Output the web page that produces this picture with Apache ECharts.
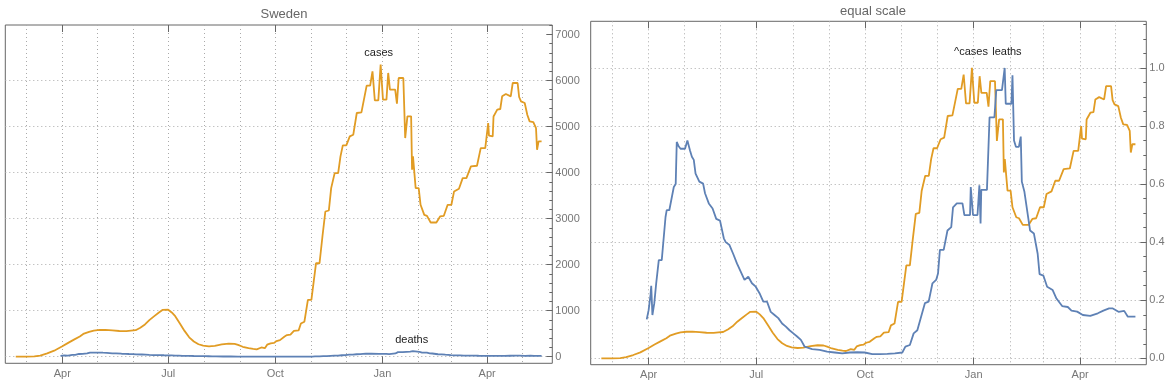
<!DOCTYPE html>
<html><head><meta charset="utf-8">
<script src="https://cdn.jsdelivr.net/npm/echarts@6/dist/echarts.min.js"></script>
<style>html,body{margin:0;padding:0;background:#fff}#c{width:1176px;height:385px}</style>
</head><body><div id="c"></div><script>
// x values are days since 12 Feb 2020
const monthDays = [18,49,79,110,140,171,202,232,263,293,324,355,383,414,444];
const quarterDays = [49,140,232,324,414];
const quarterLabels = ['Apr','Jul','Oct','Jan','Apr'];
const leftTicks = [0,1000,2000,3000,4000,5000,6000,7000];
const leftGrid = [0,1000,2000,3000,4000,5000,6000];
const rightTicks = [0,0.2,0.4,0.6,0.8,1.0];

const casesDays = [9,18,25,30,36,42,49,54,59,64,67,72,76,81,86,92,98,104,108,112,116,120,124,128,132,135,140,143,146,150,154,158,162,166,170,175,180,186,192,197,200,204,209,213,216,220,223,225,228,231,233,236,240,242,245,248,252,254,257,260,263,267,270,272.5,275,278,280,283,286,288,290,293,296,299,302,306,310.5,313.5,315.5,317.5,320.5,322.5,324.5,327.5,329,330.5,331.5,335,336.5,338,342,343.6,345.5,348.7,349.5,350.3,352.6,355.2,356.8,360,362.3,365.5,370.4,373.6,376.8,380.1,383.3,385.6,389.8,393,396.2,400.1,405.3,408.5,412.4,414.9,415.6,418.8,419.5,422.7,425.3,426.9,430.1,434.3,436,440.2,441.5,443.1,446.3,448.5,450.5,453.7,456,456.9,458.2,460.8];
const casesValues = [0,0,5,25,72,130,225,300,370,440,494,540,568,580,582,570,558,555,565,575,630,700,800,880,960,1015,1020,960,880,720,560,420,330,270,240,225,235,265,285,280,255,215,185,170,160,200,185,260,290,300,340,360,440,470,480,560,570,720,760,1233,1233,2030,2030,2611,3154,3176,3662,3988,3988,4351,4590,4590,4786,4822,5294,5308,5888,5888,6200,5569,5569,6345,5584,5584,6164,5801,5838,5801,5497,6055,6055,4750,5221,5221,4061,4351,3662,3662,3300,3082,3060,2915,2915,3046,3060,3300,3300,3590,3648,3880,3880,4133,4148,4532,4532,5076,4801,4786,5217,5366,5381,5656,5707,5656,5946,5946,5642,5547,5511,5257,5112,5098,4967,4496,4677,4677];

const deathsDays = [47.4,49,50.6,51.2,52.2,53.8,55.4,57.6,60.1,63.3,64.3,66.5,70.3,71.9,72.8,74.4,76,79.8,81.8,84,85.6,87.2,88.7,91.9,95.1,96.7,99.9,103.1,104.6,106.2,109.4,112.6,114.2,117.4,120.5,123.7,126.9,130.1,133.3,136.4,139.6,142.8,146,149.2,152.3,155.5,158.7,161.9,165.1,168.2,171.4,174.6,177.8,181,187.3,193.7,200,206.4,212.8,219.1,225.5,231.8,238.2,244.5,250.9,257.3,263.6,266.2,270,273.2,276.3,279.5,282.7,285.9,289.1,292.2,293.8,295.4,298.6,301.8,305,306.5,309.7,314.5,316.1,320.9,321.5,323.4,327.2,328.8,329.8,330.4,335.2,337.4,341.5,343.1,347.9,350.2,351.1,355.9,356.8,358.1,359.7,362.2,363.8,364.7,366.9,368.5,371.7,374.9,378.1,379.7,382.9,386.1,390.8,394,398.8,403.6,406.7,411.5,416.3,422.6,429,433.7,438.5,441.7,446.5,451.3,454.4,460.8];
const deathsValues = [16.1,19.9,26.2,30,17.9,22.8,31,40.6,40.6,58.4,61.2,61.2,70.8,72,89.4,87.6,86.6,86.6,90,85.9,83.3,82,76.3,73,72.2,68.2,64,61.9,62.6,57.6,56.9,49.6,48,46.8,43.2,39.2,35.8,32.4,33.7,31,29.6,26.9,23.4,23.4,19.2,17.9,16.6,14.4,13.1,11.6,10.3,9,7.6,4.8,3.8,3.5,2.8,2.4,2,2.4,2.5,2.4,1.7,1.7,1.8,2,2.4,4.8,5.5,10.3,11.6,17.2,22.8,23.4,31,32.4,35,44.8,44.8,52.8,54.2,62.4,64,64,59.2,59.2,70.8,59.2,59.2,71.5,55.7,69.6,69.6,99.6,99.6,110.8,110.8,120,105.2,105.2,117,90,87.4,87.4,91.6,73,68.8,68.8,52.8,51.6,43.2,34.8,34.2,29.6,28.2,24.7,21.6,21.2,19.7,19.3,17.9,17.5,18.6,19.7,20.6,20.6,19.2,19.6,17.2,17.2];

const labelCasesL = [320.8, 6604];
const labelDeathsL = [349.2, 363];
const labelCasesR = [321.7, 1.056];
const labelDeathsR = [352.1, 1.056];

const casesMax = Math.max(...casesValues);
const deathsMax = Math.max(...deathsValues);
const casesAbs = casesDays.map((d,i)=>[d, casesValues[i]]);
const deathsAbs = deathsDays.map((d,i)=>[d, deathsValues[i]]);
const casesRel = casesDays.map((d,i)=>[d, casesValues[i]/casesMax]);
const deathsRel = deathsDays.map((d,i)=>[d, deathsValues[i]/deathsMax]);

const ORANGE = '#E19C24', BLUE = '#5E81B5';
const FONT = 'Liberation Sans';
const frame = '#666';
const gridLine = {show:true, lineStyle:{color:'#aaa', type:[1,3], width:1}};

const minorL = []; for (let v=0; v<=7200; v+=200) minorL.push(v);
const minorR = []; for (let k=0; k<=23; k++) minorR.push(+(k*0.05).toFixed(2));

const rects = [
  {left:5.3, top:25, width:547, height:338.3},
  {left:590.7, top:21.3, width:555.6, height:343.4}
];
const yRanges = [[-144, 7206], [-0.022, 1.1605]];
const yTicks = [leftTicks, rightTicks];
const yGrids = [leftGrid, rightTicks];
const yMinor = [minorL, minorR];
const yFmt = [(v)=>String(Math.round(v)), (v)=>v.toFixed(1)];

const grids = [], xAxis = [], yAxis = [];
const noLine = {show:false, onZero:false};
for (let p=0; p<2; p++){
  for (let layer=0; layer<3; layer++){
    const gi = grids.length;
    grids.push(Object.assign({}, rects[p], layer===0
      ? {show:true, borderColor:frame, borderWidth:1, backgroundColor:'transparent'}
      : {show:false}));
    const xb = {type:'value', gridIndex:gi, min:0, max:470, axisLine:noLine};
    const yb = {type:'value', gridIndex:gi, min:yRanges[p][0], max:yRanges[p][1], position:'right', axisLine:noLine};
    if (layer===0){
      xAxis.push(Object.assign({}, xb, {position:'bottom',
        axisTick:{show:true, inside:true, length:7, customValues:quarterDays, lineStyle:{color:frame}},
        axisLabel:{show:true, customValues:quarterDays, margin:5, color:'#777', fontSize:11, fontFamily:FONT,
          formatter:(v)=>{const k=quarterDays.indexOf(Math.round(v)); return k>=0?quarterLabels[k]:'';}},
        splitLine:{show:false}}));
      yAxis.push(Object.assign({}, yb, {
        axisTick:{show:true, inside:true, length:6, customValues:yTicks[p], lineStyle:{color:frame}},
        axisLabel:{show:true, customValues:yTicks[p], margin:3, color:'#777', fontSize:11, fontFamily:FONT, formatter:yFmt[p]},
        splitLine:{show:false}}));
    } else if (layer===1){
      xAxis.push(Object.assign({}, xb, {position:'bottom',
        axisTick:{show:false, customValues:monthDays}, axisLabel:{show:false}, splitLine:gridLine}));
      yAxis.push(Object.assign({}, yb, {
        axisTick:{show:false, customValues:yGrids[p]}, axisLabel:{show:false}, splitLine:gridLine}));
    } else {
      xAxis.push(Object.assign({}, xb, {position:'top',
        axisTick:{show:true, inside:true, length:7, customValues:quarterDays, lineStyle:{color:frame}},
        axisLabel:{show:false}, splitLine:{show:false}}));
      yAxis.push(Object.assign({}, yb, {
        axisTick:{show:true, inside:true, length:3, customValues:yMinor[p], lineStyle:{color:frame}},
        axisLabel:{show:false}, splitLine:{show:false}}));
    }
  }
}

function mp(coord, text){
  return {symbol:'circle', symbolSize:0, silent:true, animation:false,
    data:[{coord:coord, label:{show:true, position:'inside', formatter:text, color:'#222', fontSize:11, fontFamily:FONT}}]};
}
function line(axisIdx, data, color, label, text){
  return {type:'line', xAxisIndex:axisIdx, yAxisIndex:axisIdx, data:data, showSymbol:false, z:3,
    lineStyle:{color:color, width:1.8}, itemStyle:{color:color}, markPoint:mp(label, text)};
}

const option = {
  animation:false,
  title:[
    {text:'Sweden', left:279, top:3, textAlign:'center', textStyle:{fontSize:13, fontWeight:'normal', color:'#666', fontFamily:FONT}},
    {text:'equal scale', left:868, top:0, textAlign:'center', textStyle:{fontSize:13, fontWeight:'normal', color:'#666', fontFamily:FONT}}
  ],
  grid: grids,
  xAxis: xAxis,
  yAxis: yAxis,
  series:[
    line(0, casesAbs, ORANGE, labelCasesL, 'cases'),
    line(0, deathsAbs, BLUE, labelDeathsL, 'deaths'),
    line(3, casesRel, ORANGE, labelCasesR, '^cases'),
    line(3, deathsRel, BLUE, labelDeathsR, 'leaths')
  ]
};
const chart = echarts.init(document.getElementById('c'), null, {renderer:'canvas'});
chart.setOption(option);
</script></body></html>
